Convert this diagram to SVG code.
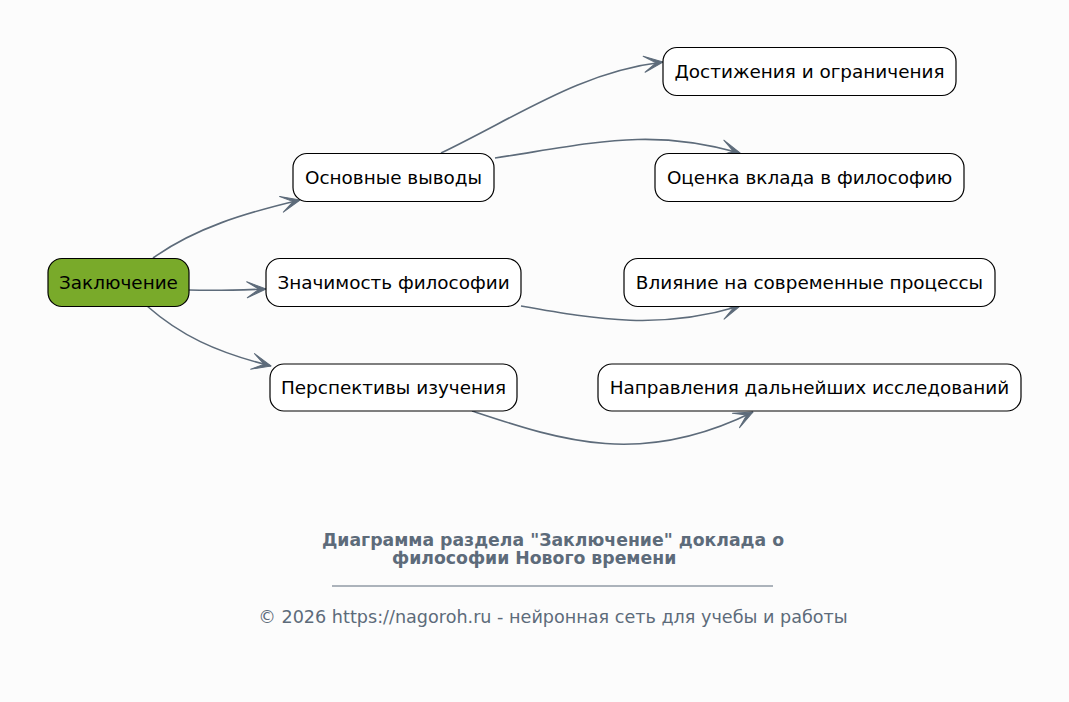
<svg xmlns="http://www.w3.org/2000/svg" width="1069" height="702" viewBox="0 0 1069 702">
<style>
.n rect{fill:#fff;stroke:#000;stroke-width:1.2}
.n text{font-family:"DejaVu Sans",sans-serif;font-size:18.4px;fill:#000;text-anchor:middle}
#conn path{fill:none;stroke:#5d6b7a;stroke-width:1.6;marker-end:url(#ah)}
.t{font-family:"DejaVu Sans",sans-serif;fill:#5d6b7a}
</style>
<defs>
<marker id="ah" viewBox="-1 -1 22 20" refX="19" refY="9" markerWidth="22" markerHeight="20" markerUnits="userSpaceOnUse" orient="auto">
<path d="M0,1 L19,9 L0,17 L12,9 z" fill="#5d6b7a" stroke="#5d6b7a" stroke-width="1" stroke-linejoin="round"/>
</marker>
</defs>
<rect width="1069" height="702" fill="#fcfcfc"/>
<g id="conn">
<path d="M153,258 C195,228 245,213 300,200"/>
<path d="M189,290 C220,291 240,290 266,289"/>
<path d="M147,306 C180,335 215,352 271,366"/>
<path d="M441,153 C520,115 580,72 663,62"/>
<path d="M495,158 C600,142 650,128 740,153"/>
<path d="M521,306 C600,320 660,330 740,306"/>
<path d="M472,411 C560,440 640,468 753,412"/>
</g>
<g id="n0" class="n"><rect x="48" y="258.5" width="141" height="48" rx="14" style="fill:#79aa2a"/><text x="118.5" y="288.5">Заключение</text></g>
<g id="n1" class="n"><rect x="293" y="153.5" width="201" height="48" rx="14"/><text x="393.5" y="183.5">Основные выводы</text></g>
<g id="n2" class="n"><rect x="266" y="258.5" width="255" height="48" rx="14"/><text x="393.5" y="288.5">Значимость философии</text></g>
<g id="n3" class="n"><rect x="270" y="364" width="247" height="47" rx="14"/><text x="393.5" y="393.5">Перспективы изучения</text></g>
<g id="n4" class="n"><rect x="663" y="47.5" width="293" height="48" rx="14"/><text x="809.5" y="77.5">Достижения и ограничения</text></g>
<g id="n5" class="n"><rect x="655" y="153.5" width="309" height="48" rx="14"/><text x="809.5" y="183.5">Оценка вклада в философию</text></g>
<g id="n6" class="n"><rect x="624" y="258.5" width="371" height="48" rx="14"/><text x="809.5" y="288.5">Влияние на современные процессы</text></g>
<g id="n7" class="n"><rect x="598" y="364" width="423" height="47" rx="14"/><text x="809.5" y="393.5">Направления дальнейших исследований</text></g>
<g id="title">
<text class="t" x="553" y="546" font-size="17.3" font-weight="bold" text-anchor="middle">Диаграмма раздела "Заключение" доклада о</text>
<text class="t" x="392" y="564" font-size="17.3" font-weight="bold">философии Нового времени</text>
<line x1="332" y1="586" x2="773" y2="586" stroke="#5d6b7a" stroke-width="1"/>
<text class="t" x="553" y="623" font-size="17.6" text-anchor="middle">© 2026 https://nagoroh.ru - нейронная сеть для учебы и работы</text>
</g>
</svg>
